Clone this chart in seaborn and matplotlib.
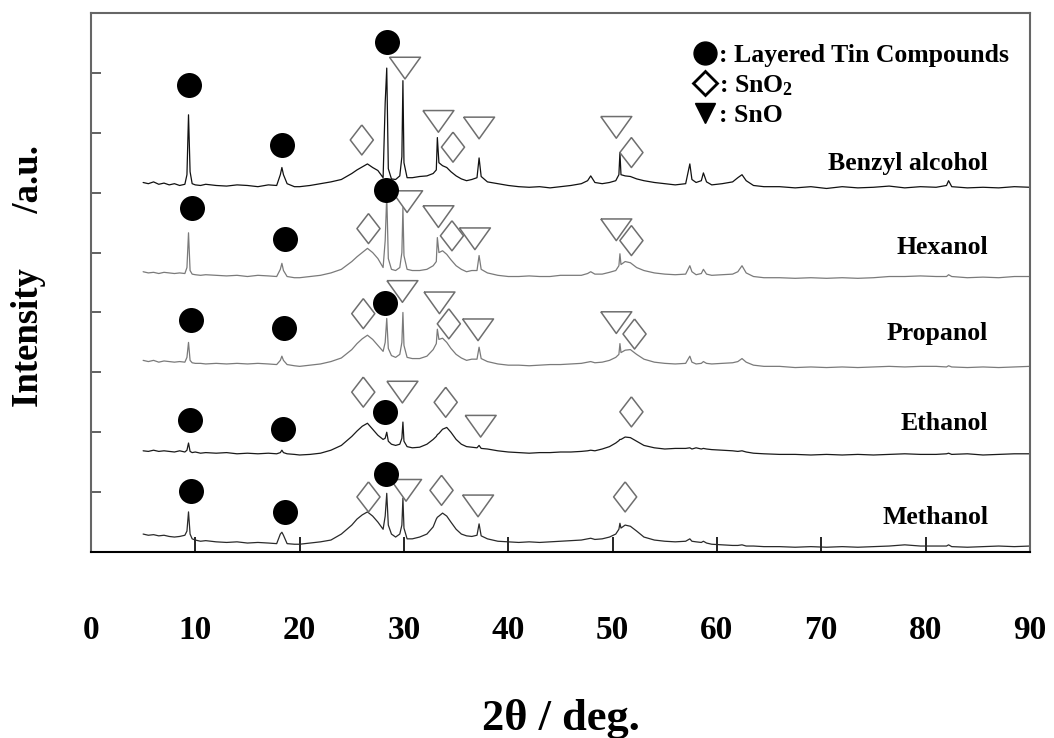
import matplotlib
matplotlib.use("Agg")
import numpy as np
import pandas as pd
import matplotlib.pyplot as plt
from matplotlib.lines import Line2D
import seaborn as sns

# 2theta grid (deg) shared by all patterns
two_theta = [
    5.0, 5.5, 6.0, 6.5, 7.0, 7.5, 8.0, 8.5, 9.0, 9.2,
    9.35, 9.5, 9.7, 10.0, 10.5, 11.0, 12.0, 13.0, 14.0, 15.0,
    16.0, 17.0, 17.8, 18.15, 18.3, 18.45, 18.8, 19.5, 20.0, 21.0,
    22.0, 23.0, 24.0, 25.0, 25.5, 26.0, 26.5, 27.0, 27.5, 28.0,
    28.2, 28.35, 28.5, 28.8, 29.2, 29.6, 29.8, 29.9, 30.0, 30.3,
    30.8, 31.5, 32.2, 32.8, 33.1, 33.2, 33.35, 33.7, 34.1, 34.5,
    35.0, 35.5, 36.0, 36.5, 37.0, 37.2, 37.4, 38.0, 39.0, 40.0,
    41.0, 42.0, 43.0, 44.0, 45.0, 46.0, 47.0, 47.6, 47.9, 48.3,
    49.0, 49.7, 50.3, 50.6, 50.7, 50.8, 51.2, 51.7, 52.3, 53.0,
    54.0, 55.0, 56.0, 57.0, 57.4, 57.6, 58.0, 58.5, 58.7, 59.0,
    59.5, 60.5, 61.5, 62.0, 62.4, 62.8, 63.5, 64.5, 66.0, 67.5,
    69.0, 70.5, 72.0, 73.5, 75.0, 76.5, 78.0, 79.5, 81.0, 82.0,
    82.2, 82.5, 84.0, 85.5, 87.0, 88.5, 90.0,
]

# stacked intensities (a.u., offset already included)
benzyl = [
    6.17, 6.15, 6.18, 6.14, 6.16, 6.13, 6.15, 6.12, 6.14, 6.30,
    7.30, 6.35, 6.15, 6.13, 6.12, 6.14, 6.12, 6.11, 6.13, 6.12,
    6.10, 6.13, 6.12, 6.30, 6.42, 6.30, 6.15, 6.10, 6.10, 6.12,
    6.15, 6.18, 6.22, 6.32, 6.38, 6.43, 6.48, 6.42, 6.37, 6.25,
    7.50, 8.08, 6.40, 6.23, 6.22, 6.28, 6.60, 7.87, 6.50, 6.25,
    6.25, 6.27, 6.28, 6.32, 6.38, 6.92, 6.50, 6.45, 6.42, 6.35,
    6.28, 6.23, 6.20, 6.22, 6.25, 6.58, 6.27, 6.18, 6.15, 6.12,
    6.10, 6.09, 6.10, 6.08, 6.10, 6.12, 6.15, 6.20, 6.28, 6.17,
    6.15, 6.17, 6.20, 6.30, 6.67, 6.30, 6.28, 6.27, 6.23, 6.20,
    6.17, 6.15, 6.13, 6.15, 6.48, 6.22, 6.17, 6.20, 6.33, 6.18,
    6.13, 6.15, 6.18, 6.25, 6.30, 6.20, 6.12, 6.10, 6.10, 6.08,
    6.10, 6.07, 6.10, 6.08, 6.09, 6.11, 6.08, 6.10, 6.09, 6.12,
    6.20, 6.10, 6.08, 6.09, 6.08, 6.10, 6.09,
]
hexanol = [
    4.68, 4.66, 4.67, 4.65, 4.67, 4.66, 4.65, 4.66, 4.65, 4.75,
    5.33, 4.70, 4.64, 4.63, 4.62, 4.63, 4.62, 4.61, 4.62, 4.60,
    4.62, 4.61, 4.60, 4.72, 4.82, 4.70, 4.60, 4.58, 4.58, 4.60,
    4.62, 4.66, 4.72, 4.85, 4.93, 5.00, 5.07, 5.00, 4.90, 4.75,
    5.20, 5.95, 4.90, 4.72, 4.70, 4.75, 5.00, 5.75, 4.95, 4.72,
    4.70, 4.70, 4.72, 4.78, 4.85, 5.25, 5.00, 5.03, 4.97, 4.88,
    4.78, 4.72, 4.68, 4.70, 4.70, 4.95, 4.72, 4.66, 4.62, 4.60,
    4.60, 4.61, 4.60, 4.60, 4.62, 4.62, 4.62, 4.65, 4.68, 4.64,
    4.64, 4.67, 4.70, 4.78, 4.98, 4.80, 4.85, 4.83, 4.75, 4.70,
    4.66, 4.64, 4.63, 4.64, 4.78, 4.68, 4.63, 4.65, 4.72, 4.64,
    4.62, 4.63, 4.64, 4.68, 4.78, 4.66, 4.60, 4.58, 4.58, 4.57,
    4.58, 4.57, 4.58, 4.57, 4.58, 4.60, 4.60, 4.61, 4.60, 4.60,
    4.63, 4.60, 4.58, 4.59, 4.58, 4.60, 4.60,
]
propanol = [
    3.20, 3.18, 3.20, 3.17, 3.19, 3.18, 3.17, 3.18, 3.17, 3.25,
    3.50, 3.20, 3.16, 3.15, 3.15, 3.14, 3.15, 3.14, 3.15, 3.14,
    3.15, 3.14, 3.13, 3.20, 3.27, 3.20, 3.13, 3.11, 3.10, 3.12,
    3.14, 3.18, 3.24, 3.38, 3.48, 3.56, 3.62, 3.55, 3.45, 3.35,
    3.50, 3.90, 3.40, 3.28, 3.25, 3.30, 3.50, 4.00, 3.45, 3.25,
    3.23, 3.23, 3.27, 3.38, 3.48, 3.72, 3.55, 3.57, 3.50, 3.40,
    3.30, 3.24, 3.20, 3.22, 3.22, 3.42, 3.23, 3.18, 3.14, 3.12,
    3.12, 3.11, 3.12, 3.13, 3.13, 3.14, 3.15, 3.17, 3.18, 3.16,
    3.17, 3.20, 3.25, 3.30, 3.48, 3.33, 3.37, 3.38, 3.30, 3.22,
    3.17, 3.15, 3.14, 3.15, 3.27, 3.17, 3.14, 3.15, 3.18, 3.15,
    3.14, 3.15, 3.16, 3.18, 3.23, 3.17, 3.12, 3.10, 3.10, 3.08,
    3.09, 3.08, 3.09, 3.08, 3.09, 3.10, 3.09, 3.10, 3.10, 3.09,
    3.11, 3.09, 3.08, 3.09, 3.08, 3.09, 3.10,
]
ethanol = [
    1.69, 1.68, 1.70, 1.68, 1.69, 1.68, 1.67, 1.69, 1.67, 1.70,
    1.82, 1.68, 1.66, 1.67, 1.65, 1.66, 1.65, 1.66, 1.64, 1.65,
    1.64, 1.65, 1.64, 1.66, 1.70, 1.66, 1.64, 1.63, 1.62, 1.63,
    1.65, 1.70, 1.78, 1.93, 2.02, 2.10, 2.15, 2.05, 1.95, 1.88,
    1.90, 2.00, 1.85, 1.80, 1.78, 1.80, 1.90, 2.17, 1.85, 1.76,
    1.74, 1.75, 1.80, 1.88, 1.93, 1.96, 1.98, 2.05, 2.08, 2.00,
    1.88, 1.80, 1.76, 1.75, 1.74, 1.78, 1.73, 1.72, 1.69, 1.67,
    1.66, 1.65, 1.66, 1.66, 1.67, 1.67, 1.68, 1.69, 1.70, 1.69,
    1.72, 1.76, 1.82, 1.86, 1.88, 1.88, 1.92, 1.91, 1.85, 1.78,
    1.74, 1.72, 1.73, 1.73, 1.74, 1.72, 1.74, 1.72, 1.73, 1.72,
    1.71, 1.70, 1.69, 1.68, 1.69, 1.67, 1.65, 1.64, 1.63, 1.63,
    1.62, 1.63, 1.62, 1.63, 1.62, 1.63, 1.64, 1.63, 1.63, 1.64,
    1.65, 1.63, 1.64, 1.62, 1.63, 1.64, 1.64,
]
methanol = [
    0.30, 0.28, 0.29, 0.27, 0.28, 0.26, 0.25, 0.26, 0.28, 0.35,
    0.67, 0.30, 0.22, 0.20, 0.18, 0.19, 0.17, 0.16, 0.17, 0.15,
    0.16, 0.15, 0.14, 0.30, 0.33, 0.28, 0.14, 0.13, 0.13, 0.15,
    0.17, 0.20, 0.30, 0.45, 0.55, 0.62, 0.67, 0.60, 0.50, 0.38,
    0.60, 0.98, 0.45, 0.30, 0.25, 0.30, 0.45, 0.90, 0.40, 0.22,
    0.22, 0.25, 0.30, 0.42, 0.55, 0.58, 0.60, 0.65, 0.60, 0.50,
    0.38, 0.30, 0.27, 0.26, 0.28, 0.47, 0.27, 0.22, 0.18, 0.17,
    0.16, 0.17, 0.16, 0.17, 0.18, 0.19, 0.20, 0.22, 0.23, 0.21,
    0.22, 0.25, 0.30, 0.38, 0.48, 0.40, 0.45, 0.43, 0.35, 0.25,
    0.20, 0.18, 0.17, 0.18, 0.22, 0.18, 0.17, 0.16, 0.18, 0.15,
    0.13, 0.12, 0.11, 0.11, 0.12, 0.10, 0.10, 0.09, 0.09, 0.08,
    0.09, 0.08, 0.09, 0.08, 0.09, 0.10, 0.12, 0.10, 0.10, 0.10,
    0.12, 0.09, 0.08, 0.09, 0.10, 0.09, 0.10,
]

samples = ["Benzyl alcohol", "Hexanol", "Propanol", "Ethanol", "Methanol"]
sample_label_y = [6.48, 5.08, 3.65, 2.15, 0.57]

# peak assignment markers
layered_x = [9.36, 18.3, 28.4, 9.67, 18.6, 28.3, 9.58, 18.5, 28.2, 9.5, 18.4, 28.2, 9.58, 18.6, 28.25]
layered_y = [7.8, 6.8, 8.52, 5.74, 5.22, 6.05, 3.88, 3.74, 4.16, 2.2, 2.06, 2.33, 1.02, 0.67, 1.31]
sno2_x = [25.96, 34.7, 51.8, 26.6, 34.6, 51.8, 26.1, 34.3, 52.1, 26.1, 34.0, 51.8, 26.6, 33.6, 51.2]
sno2_y = [6.88, 6.76, 6.67, 5.4, 5.28, 5.2, 3.98, 3.81, 3.64, 2.67, 2.5, 2.34, 0.92, 1.03, 0.92]
sno_x = [30.1, 33.3, 37.2, 50.35, 30.3, 33.3, 36.8, 50.35, 29.85, 33.4, 37.1, 50.35, 29.85, 37.35, 30.2, 37.1]
sno_y = [8.08, 7.19, 7.08, 7.09, 5.85, 5.6, 5.23, 5.38, 4.35, 4.16, 3.71, 3.83, 2.67, 2.1, 1.03, 0.77]

patterns = [benzyl, hexanol, propanol, ethanol, methanol]
for p in patterns:
    assert len(p) == len(two_theta)

df = pd.concat([pd.DataFrame({"two_theta": two_theta, "intensity": vals, "sample": name})
                for name, vals in zip(samples, patterns)], ignore_index=True)

sns.set_style("ticks")
plt.rcParams['font.family'] = ['Liberation Serif', 'DejaVu Serif']
plt.rcParams['font.weight'] = 'bold'
plt.rcParams['text.color'] = 'black'
plt.rcParams['axes.labelcolor'] = 'black'
plt.rcParams['xtick.color'] = 'black'
plt.rcParams['ytick.color'] = 'black'
plt.rcParams['mathtext.fontset'] = 'custom'
plt.rcParams['mathtext.rm'] = 'Liberation Serif:bold'
plt.rcParams['mathtext.bf'] = 'Liberation Serif:bold'
plt.rcParams['mathtext.default'] = 'bf'

fig = plt.figure(figsize=(10.54, 7.38), dpi=100)
ax = fig.add_axes([0.0863, 0.252, 0.8909, 0.7304])

palette = {"Benzyl alcohol": "#111111", "Hexanol": "#7a7a7a", "Propanol": "#7a7a7a",
           "Ethanol": "#1a1a1a", "Methanol": "#2a2a2a"}
sns.lineplot(data=df, x="two_theta", y="intensity", hue="sample", palette=palette,
             estimator=None, sort=False, lw=0.9, legend=False, ax=ax)

diamond = [(0, 1), (0.77, 0), (0, -1), (-0.77, 0), (0, 1)]
down_tri = [(-1, 0.7), (1, 0.7), (0, -0.7), (-1, 0.7)]

sns.scatterplot(x=layered_x, y=layered_y, marker="o", s=324, color="black",
                edgecolor="black", linewidth=0, ax=ax, zorder=4)
sns.scatterplot(x=sno2_x, y=sno2_y, marker=diamond, s=467, facecolor="none",
                edgecolor="#6e6e6e", linewidth=1.1, ax=ax, zorder=3)
sns.scatterplot(x=sno_x, y=sno_y, marker=down_tri, s=497, facecolor="none",
                edgecolor="#6e6e6e", linewidth=1.1, ax=ax, zorder=3)

for name, y in zip(samples, sample_label_y):
    ax.text(86.0, y, name, ha="right", va="center", fontsize=18.5, fontweight="bold", color="black")

handles = [
    Line2D([], [], ls="", marker="o", color="black", ms=16.5),
    Line2D([], [], ls="", marker="D", mfc="white", mec="black", mew=2, ms=12),
    Line2D([], [], ls="", marker="v", color="black", ms=14.5),
]
labels = [": Layered Tin Compounds", ": SnO$_2$", ": SnO"]
ax.legend(handles, labels, loc="upper left", bbox_to_anchor=(0.643, 0.943), frameon=False,
          fontsize=18.5, handlelength=0.8, handletextpad=0.15, labelspacing=0.25,
          borderpad=0, borderaxespad=0)

ax.set_xlim(0, 90)
ax.set_ylim(0, 9)
ax.set_xticks(range(0, 91, 10))
ax.set_yticks(range(1, 9))
ax.set_yticklabels([])
ax.tick_params(axis="x", direction="in", length=11, width=1.2, color="black", pad=45,
               labelsize=24, labelcolor="black")
ax.tick_params(axis="y", direction="in", length=7, width=1.3, color="#555555")

for side in ["left", "top", "right"]:
    ax.spines[side].set_color("#666666")
    ax.spines[side].set_linewidth(1.5)
ax.spines["bottom"].set_color("black")
ax.spines["bottom"].set_linewidth(1.5)

ax.set_xlabel("2θ / deg.", fontsize=32, fontweight="bold", va="center")
ax.xaxis.set_label_coords(0.5, -0.31)
ax.set_ylabel("Intensity      /a.u.", fontsize=26.5, fontweight="bold", va="center")
ax.yaxis.set_label_coords(-0.066, 0.512)

fig.savefig("out.png", dpi=100)
